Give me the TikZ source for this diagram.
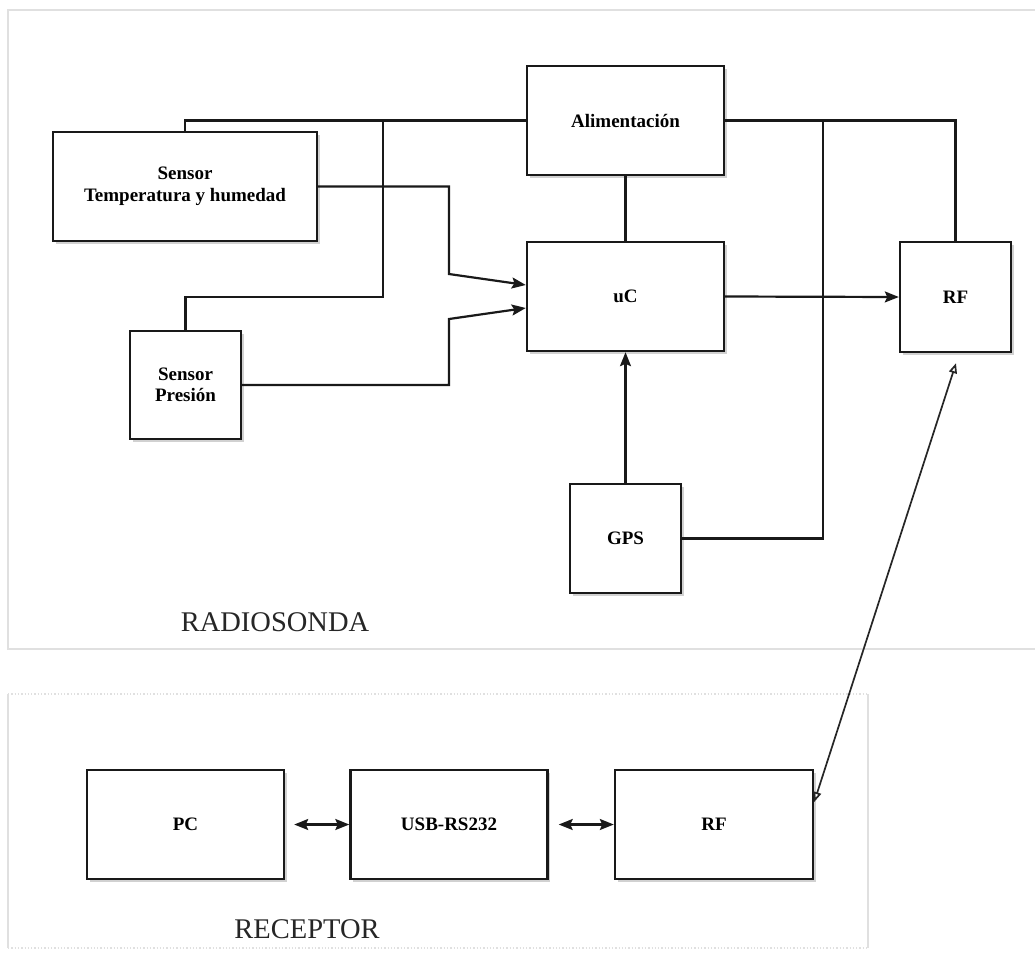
\documentclass[tikz,border=0pt]{standalone}
\usepackage{fontspec}
\setmainfont{Liberation Serif}
\usetikzlibrary{arrows.meta,calc,shadows}
\begin{document}
\begin{tikzpicture}[x=1pt,y=-1pt,
  blk/.style={draw=black!90,line width=2.4pt,fill=white,inner sep=0pt,
    font=\bfseries\fontsize{19}{21.5}\selectfont,align=center,
    drop shadow={shadow xshift=2.5pt,shadow yshift=-2.5pt,opacity=.18,fill=black}},
  wire/.style={draw=black!90,line width=2.2pt},
  arr/.style={wire,-{Stealth[length=14pt,width=11pt,inset=2.5pt]}},
  darr/.style={wire,{Stealth[length=14pt,width=11pt,inset=2.5pt]}-{Stealth[length=14pt,width=11pt,inset=2.5pt]}},
  oarr/.style={draw=black!85,line width=1.7pt,{Triangle[open,length=10pt,width=8pt]}-{Triangle[open,length=10pt,width=8pt]}},
  frame/.style={draw=black!12,line width=1.3pt},
  lbl/.style={font=\fontsize{28.5}{32}\selectfont,text=black!85}
]
\useasboundingbox (0,0) rectangle (1035,953);
\fill[white] (0,0) rectangle (1035,953);
% frames
\draw[frame] (1040,10) -- (8,10) -- (8,649) -- (1040,649);
\draw[frame,dotted,line width=1.8pt] (8,694) -- (868,694);
\draw[frame,dotted,line width=1.8pt] (8,948) -- (868,948);
\draw[frame] (8,694) -- (8,948);
\draw[frame] (868,694) -- (868,948);
% blocks
\node[blk,minimum width=264pt,minimum height=109pt] (st) at (185,186.5) {Sensor\\Temperatura y humedad};
\node[blk,minimum width=197pt,minimum height=109pt] (ali) at (625.5,120.5) {Alimentación};
\node[blk,minimum width=197pt,minimum height=109pt] (uc) at (625.5,296.5) {uC};
\node[blk,minimum width=111pt,minimum height=110pt] (rf1) at (955.5,297) {RF};
\node[blk,minimum width=111pt,minimum height=108pt] (sp) at (185.5,385) {Sensor\\Presión};
\node[blk,minimum width=111pt,minimum height=109pt] (gps) at (625.5,538.5) {GPS};
\node[blk,minimum width=197pt,minimum height=109pt] (pc) at (185.5,824.5) {PC};
\node[blk,minimum width=197pt,minimum height=109pt] (usb) at (449,824.5) {USB-RS232};
\node[blk,minimum width=198pt,minimum height=109pt] (rf2) at (714,824.5) {RF};
% labels
\node[lbl,anchor=base] (lr) at (275,631) {RADIOSONDA};
\node[lbl,anchor=base] (lc) at (307,938) {RECEPTOR};
% power wiring
\coordinate (j1) at (383,120.5);
\coordinate (j2) at (823,120.5);
\draw[wire] (st.north) |- (ali.west);
\draw[wire] (sp.north) |- (383,297) -- (j1);
\draw[wire] (ali.east) -| (rf1.north);
\draw[wire] (gps.east) -| (j2);
\draw[wire] (ali.south) -- (uc.north);
% data
\draw[arr] (st.east) -- (449,186.5) -- (449,274) -- ($(uc.west)+(0,-11.5)$);
\draw[arr] (sp.east) -- (449,385) -- (449,319) -- ($(uc.west)+(0,11.5)$);
\draw[arr] (gps.north) -- (uc.south);
\draw[arr] (uc.east) -- (rf1.west);
\draw[darr,shorten <=9pt] (pc.east) -- (usb.west);
\draw[darr,shorten <=10pt] (usb.east) -- (rf2.west);
% radio link
\coordinate (a1) at ($(rf2.east)+(0,-22.5)$);
\coordinate (a2) at ($(rf1.south)+(0.5,10)$);
\draw[oarr] (a1) -- (a2);
\end{tikzpicture}
\end{document}
